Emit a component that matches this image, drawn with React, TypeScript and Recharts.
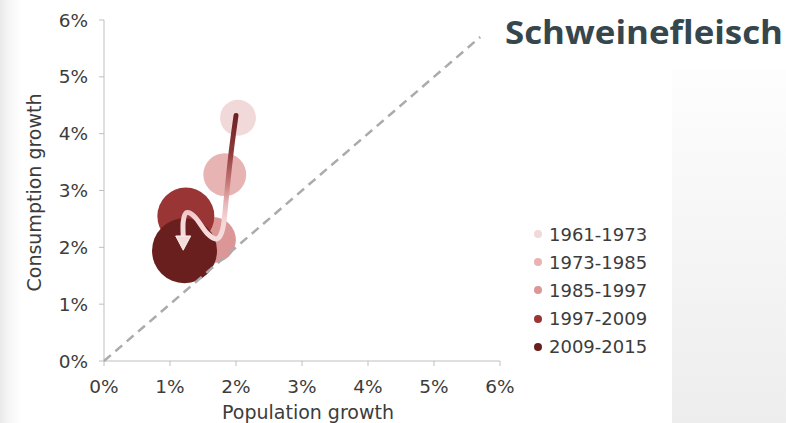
import React from 'react';
import { ScatterChart, Scatter, XAxis, YAxis, ZAxis } from 'recharts';

// ---- data ----
const periods = ['1961-1973', '1973-1985', '1985-1997', '1997-2009', '2009-2015'];
const populationGrowth = [2.03, 1.83, 1.65, 1.24, 1.22];
const consumptionGrowth = [4.28, 3.28, 2.13, 2.55, 1.94];
const bubbleSize = [33, 47, 54, 83, 108];
const periodColors = ['#f2d9d9', '#e8b3b3', '#dd9696', '#993535', '#6a1f1f'];
const axisTicks = [0, 1, 2, 3, 4, 5, 6];
const diagonalX = [0, 5.7];
const diagonalY = [0, 5.7];
// trajectory arrow (data coordinates), last point = arrow tip
const arrowX = [2.0, 1.93, 1.88, 1.85, 1.8, 1.71, 1.56, 1.38, 1.25, 1.2, 1.2, 1.2];
const arrowY = [4.32, 3.71, 3.18, 2.83, 2.33, 2.15, 2.25, 2.53, 2.61, 2.45, 2.2, 1.95];
const titleText = 'Schweinefleisch';
const xLabel = 'Population growth';
const yLabel = 'Consumption growth';

const seriesData = periods.map((p, i) => [
  { x: populationGrowth[i], y: consumptionGrowth[i], z: bubbleSize[i], period: p },
]);
const arrowData = arrowX.map((x, i) => ({ x, y: arrowY[i] }));
const diagonalData = diagonalX.map((x, i) => ({ x, y: diagonalY[i] }));

const FONT = '"DejaVu Sans", Verdana, sans-serif';
const TEXT = '#3c3c3c';

function catmullRom(p: { x: number; y: number }[]) {
  let d = `M${p[0].x},${p[0].y}`;
  for (let i = 0; i < p.length - 1; i++) {
    const p0 = p[i - 1] || p[i];
    const p1 = p[i];
    const p2 = p[i + 1];
    const p3 = p[i + 2] || p2;
    const c1x = p1.x + (p2.x - p0.x) / 6;
    const c1y = p1.y + (p2.y - p0.y) / 6;
    const c2x = p2.x - (p3.x - p1.x) / 6;
    const c2y = p2.y - (p3.y - p1.y) / 6;
    d += ` C${c1x},${c1y} ${c2x},${c2y} ${p2.x},${p2.y}`;
  }
  return d;
}

const renderArrow = (props: any) => {
  const pts = props.points as { x: number; y: number }[];
  if (!pts || pts.length < 3) return <g />;
  const shaft = pts.slice(0, -1);
  const tip = pts[pts.length - 1];
  const base = pts[pts.length - 2];
  const dx = tip.x - base.x;
  const dy = tip.y - base.y;
  const len = Math.hypot(dx, dy) || 1;
  const px = -dy / len;
  const py = dx / len;
  const hw = 7.5;
  const tri = `M${tip.x},${tip.y} L${base.x + px * hw},${base.y + py * hw} L${base.x - px * hw},${base.y - py * hw} Z`;
  return (
    <g>
      <defs>
        <linearGradient id="arrowGrad" x1="0" y1="0" x2="0" y2="1">
          <stop offset="0" stopColor="#6e2323" />
          <stop offset="0.3" stopColor="#8f3a3a" />
          <stop offset="0.55" stopColor="#c77a7a" />
          <stop offset="0.72" stopColor="#eab9b9" />
          <stop offset="0.85" stopColor="#f4d6d6" />
          <stop offset="1" stopColor="#f6dddd" />
        </linearGradient>
      </defs>
      <path d={catmullRom(shaft)} fill="none" stroke="url(#arrowGrad)" strokeWidth={5} strokeLinecap="round" strokeLinejoin="round" />
      <path d={tri} fill="#f5dcdc" stroke="#fbeeee" strokeWidth={1} />
    </g>
  );
};

const renderDiagonal = (props: any) => {
  const pts = props.points as { x: number; y: number }[];
  if (!pts || pts.length < 2) return <g />;
  return (
    <line
      x1={pts[0].x}
      y1={pts[0].y}
      x2={pts[pts.length - 1].x}
      y2={pts[pts.length - 1].y}
      stroke="#ababab"
      strokeWidth={2.5}
      strokeDasharray="9 6"
    />
  );
};

export default function App() {
  return (
    <div style={{ position: 'absolute', left: 0, top: 0, width: 786, height: 423, background: '#ffffff', overflow: 'hidden' }}>
      <div style={{ position: 'absolute', left: 0, top: 0, width: 24, height: 423, background: 'linear-gradient(to right, #e9e9e9 0px, #f5f5f5 8px, #ffffff 22px)' }} />
      <div style={{ position: 'absolute', left: 672, top: 70, width: 114, height: 353, background: 'linear-gradient(to bottom, #fdfdfd, #ededed)' }} />
      <div style={{ position: 'absolute', left: 0, top: 0 }}>
        <ScatterChart width={786} height={423} margin={{ top: 20, right: 286, bottom: 0, left: 0 }}>
          <XAxis
            type="number"
            dataKey="x"
            domain={[0, 6]}
            ticks={axisTicks}
            tickFormatter={(v: number) => `${v}%`}
            height={62}
            stroke="#bfbfbf"
            tickSize={5}
            tickMargin={14}
            tick={{ fill: TEXT, fontSize: 18.5, fontFamily: FONT }}
            label={{ value: xLabel, position: 'insideBottom', offset: 4, dx: 6, fill: TEXT, fontSize: 19, fontFamily: FONT }}
          />
          <YAxis
            type="number"
            dataKey="y"
            domain={[0, 6]}
            ticks={axisTicks}
            tickFormatter={(v: number) => `${v}%`}
            width={104}
            stroke="#bfbfbf"
            tickSize={5}
            tickMargin={11}
            tick={{ fill: TEXT, fontSize: 18.5, fontFamily: FONT }}
            label={{ value: yLabel, angle: -90, position: 'insideLeft', offset: 34, dy: 2, fill: TEXT, fontSize: 19, fontFamily: FONT, style: { textAnchor: 'middle' } }}
          />
          <ZAxis type="number" dataKey="z" domain={[0, 108]} range={[0, 3318]} />
          {periods.map((p, i) => (
            <Scatter key={p} name={p} data={seriesData[i]} fill={periodColors[i]} isAnimationActive={false} />
          ))}
          <Scatter
            name="diagonal"
            data={diagonalData}
            fill="none"
            shape={() => <g />}
            line={renderDiagonal}
            lineType="joint"
            legendType="none"
            isAnimationActive={false}
          />
          <Scatter
            name="trajectory"
            data={arrowData}
            fill="none"
            shape={() => <g />}
            line={renderArrow}
            lineType="joint"
            legendType="none"
            isAnimationActive={false}
          />
        </ScatterChart>
      </div>
      <svg style={{ position: 'absolute', left: 0, top: 0 }} width={786} height={60}>
        <text x={505} y={44} fontFamily='"Open Sans", sans-serif' fontWeight={700} fontSize={32} fill="#36464d" textLength={278} lengthAdjust="spacingAndGlyphs">
          {titleText}
        </text>
      </svg>
      <div style={{ position: 'absolute', left: 530, top: 220, fontFamily: FONT, fontSize: 18, color: TEXT }}>
        {periods.map((p, i) => (
          <div key={p} style={{ height: 28.2, display: 'flex', alignItems: 'center' }}>
            <span style={{ display: 'inline-block', width: 8, height: 8, borderRadius: 4, background: periodColors[i], marginLeft: 4, marginRight: 7 }} />
            <span>{p}</span>
          </div>
        ))}
      </div>
    </div>
  );
}
